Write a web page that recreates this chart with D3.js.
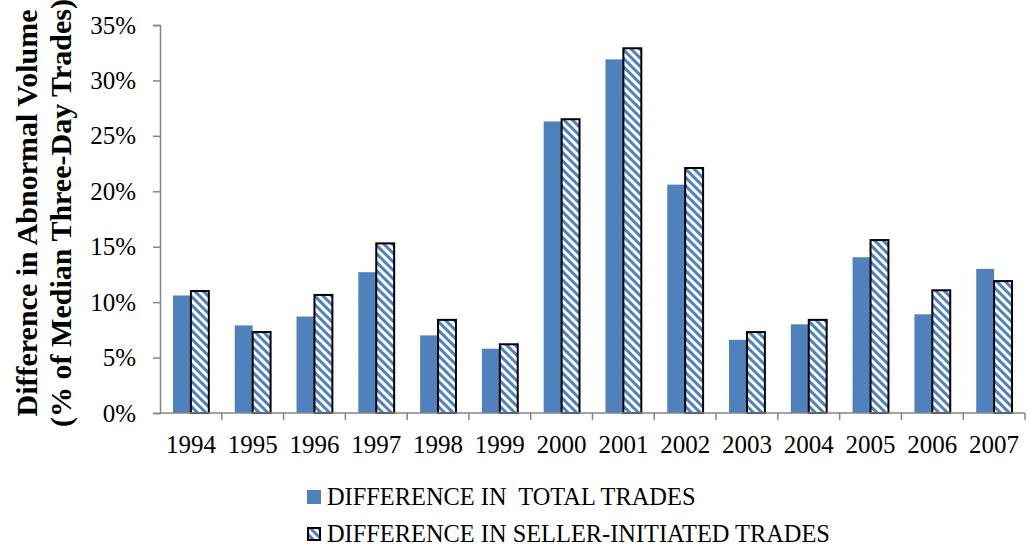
<!DOCTYPE html>
<html>
<head>
<meta charset="utf-8">
<script src="https://cdn.jsdelivr.net/npm/d3@7"></script>
<style>
  html, body { margin: 0; padding: 0; background: #fff; }
  svg text { font-family: "Liberation Serif", "Times New Roman", serif; }
</style>
</head>
<body>
<div id="chart"></div>
<script>
const years = ['1994', '1995', '1996', '1997', '1998', '1999', '2000', '2001', '2002', '2003', '2004', '2005', '2006', '2007'];
const totalTrades = [10.6, 7.9, 8.7, 12.7, 7.0, 5.8, 26.3, 31.9, 20.6, 6.6, 8.0, 14.05, 8.9, 13.0];
const sellerTrades = [11.0, 7.3, 10.65, 15.3, 8.4, 6.2, 26.5, 32.9, 22.1, 7.3, 8.4, 15.6, 11.07, 11.9];
const yTicks = [0, 5, 10, 15, 20, 25, 30, 35];
const seriesNames = ['DIFFERENCE IN  TOTAL TRADES', 'DIFFERENCE IN SELLER-INITIATED TRADES'];

const width = 1029, height = 548;
const margin = { top: 25, right: 4, bottom: 135, left: 160 };
const blue = '#4F81BD';
const axisColor = '#868686';

const svg = d3.select('#chart')
    .append('svg')
    .attr('width', width)
    .attr('height', height);

// diagonal hatch for the seller-initiated series
const defs = svg.append('defs');
const pat = defs.append('pattern')
    .attr('id', 'hatch')
    .attr('patternUnits', 'userSpaceOnUse')
    .attr('width', 6)
    .attr('height', 6)
    .attr('patternTransform', 'rotate(-45)');
pat.append('rect').attr('width', 6).attr('height', 6).attr('fill', '#fff');
pat.append('rect').attr('width', 3).attr('height', 6).attr('fill', blue);

const x0 = d3.scaleBand()
    .domain(years)
    .range([margin.left, width - margin.right])
    .paddingInner(0.42)
    .paddingOuter(0.21);

const x1 = d3.scaleBand()
    .domain([0, 1])
    .range([0, x0.bandwidth()]);

const y = d3.scaleLinear()
    .domain([0, 35])
    .range([height - margin.bottom, margin.top]);

// bars
const groups = svg.append('g')
    .selectAll('g')
    .data(years)
    .enter()
    .append('g')
    .attr('transform', d => `translate(${x0(d)},0)`);

groups.append('rect')
    .attr('x', x1(0))
    .attr('y', (d, i) => y(totalTrades[i]))
    .attr('width', x1.bandwidth())
    .attr('height', (d, i) => y(0) - y(totalTrades[i]))
    .attr('fill', blue);

groups.append('rect')
    .attr('x', x1(1))
    .attr('y', (d, i) => y(sellerTrades[i]))
    .attr('width', x1.bandwidth())
    .attr('height', (d, i) => y(0) - y(sellerTrades[i]))
    .attr('fill', 'url(#hatch)')
    .attr('stroke', '#000')
    .attr('stroke-width', 2);

// y axis
const yAxis = svg.append('g')
    .attr('transform', `translate(${margin.left},0)`)
    .call(d3.axisLeft(y)
        .tickValues(yTicks)
        .tickSize(7)
        .tickPadding(17)
        .tickFormat(d => d + '%'));
yAxis.select('.domain').attr('stroke', axisColor).attr('stroke-width', 1.5);
yAxis.selectAll('.tick line').attr('stroke', axisColor).attr('stroke-width', 1.5);
yAxis.selectAll('.tick text')
    .attr('fill', '#000')
    .style('font-size', '25px')
    .style('font-family', '"Liberation Serif", serif');

// x axis
const step = x0.step();
const xAxis = svg.append('g')
    .attr('transform', `translate(0,${y(0)})`);
xAxis.append('line')
    .attr('x1', margin.left).attr('x2', width - margin.right)
    .attr('stroke', axisColor).attr('stroke-width', 1.5);
xAxis.selectAll('.xtick')
    .data(years)
    .enter()
    .append('line')
    .attr('class', 'xtick')
    .attr('x1', (d, i) => margin.left + step * (i + 1))
    .attr('x2', (d, i) => margin.left + step * (i + 1))
    .attr('y1', 0).attr('y2', 7)
    .attr('stroke', axisColor).attr('stroke-width', 1.5);
xAxis.selectAll('.xlabel')
    .data(years)
    .enter()
    .append('text')
    .attr('x', d => x0(d) + x0.bandwidth() / 2)
    .attr('y', 40)
    .attr('text-anchor', 'middle')
    .style('font-size', '25px')
    .text(d => d);

// y axis title
const titleY = 213;
svg.append('text')
    .attr('transform', `translate(37,${titleY}) rotate(-90)`)
    .attr('text-anchor', 'middle')
    .style('font-size', '30px')
    .style('font-weight', 'bold')
    .text('Difference in Abnormal Volume');
svg.append('text')
    .attr('transform', `translate(71,${titleY}) rotate(-90)`)
    .attr('text-anchor', 'middle')
    .style('font-size', '30px')
    .style('font-weight', 'bold')
    .text('(% of Median Three-Day Trades)');

// legend
const legend = svg.append('g').attr('transform', 'translate(307,490)');
legend.selectAll('g')
    .data(seriesNames)
    .enter()
    .append('g')
    .attr('transform', (d, i) => `translate(0,${i * 37})`)
    .each(function(d, i) {
        const g = d3.select(this);
        g.append('rect')
            .attr('x', i ? 1 : 0).attr('y', i ? 1 : 0)
            .attr('width', i ? 12 : 14).attr('height', i ? 12 : 14)
            .attr('fill', i ? 'url(#hatch)' : blue)
            .attr('stroke', i ? '#000' : 'none')
            .attr('stroke-width', 2);
        g.append('text')
            .attr('x', 20)
            .attr('y', 15)
            .style('font-size', '24.4px')
            .style('white-space', 'pre')
            .text(d);
    });
</script>
</body>
</html>
